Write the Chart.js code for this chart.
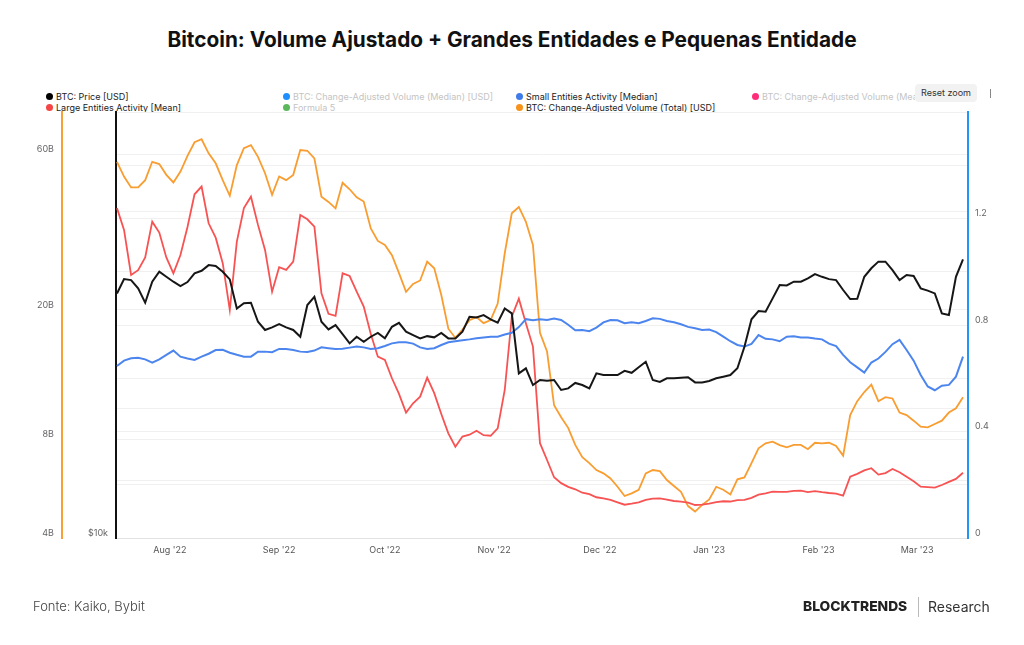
<!DOCTYPE html>
<html>
<head>
<meta charset="utf-8">
<script src="https://cdn.jsdelivr.net/npm/chart.js@4.4.0/dist/chart.umd.min.js"></script>
<style>
  html, body { margin: 0; padding: 0; background: #fff; }
  body { width: 1024px; height: 645px; position: relative; overflow: hidden; font-family: Inter, "Noto Sans", sans-serif; }
  #c { position: absolute; left: 0; top: 0; }
  .title { position: absolute; top: 27px; left: 0; width: 1024px; text-align: center; font-size: 20.8px; font-weight: 700; color: #111; }
  .legend { position: absolute; left: 0; top: 90px; width: 915px; height: 26px; overflow: hidden; font-size: 9px; }
  .item { position: absolute; white-space: nowrap; display: flex; align-items: center; height: 11px; }
  .dot { width: 7px; height: 7px; border-radius: 50%; margin-right: 3px; }
  .reset { position: absolute; left: 915px; top: 84px; width: 62px; height: 18px; line-height: 18px; background: #f2f2f2; border-radius: 4px; font-size: 9px; color: #333; text-align: center; }
  .pipe { position: absolute; left: 990px; top: 89px; width: 1px; height: 9px; background: #888; }
  .source { position: absolute; left: 33px; top: 598px; font-size: 13px; font-weight: 300; color: #444; }
  .brand { position: absolute; left: 803px; top: 598px; font-size: 13.8px; font-weight: 800; color: #222; }
  .sep { position: absolute; left: 918px; top: 597px; width: 1px; height: 20px; background: #bbb; }
  .research { position: absolute; left: 928px; top: 598px; font-size: 14px; font-weight: 400; color: #333; }
</style>
</head>
<body>
<div class="title">Bitcoin: Volume Ajustado + Grandes Entidades e Pequenas Entidade</div>
<div class="legend" id="legend"></div>
<div class="reset">Reset zoom</div>
<div class="pipe"></div>
<canvas id="c" width="1024" height="645"></canvas>
<div class="source">Fonte: Kaiko, Bybit</div>
<div class="brand">BLOCKTRENDS</div>
<div class="sep"></div>
<div class="research">Research</div>
<script>
// daily series sampled every 2 days, from 17 Jul 2022 to 14 Mar 2023
const START = Date.UTC(2022, 6, 17);
const DAY = 86400000;
const dates = [];
for (let t = START; t <= Date.UTC(2023, 2, 14); t += 2 * DAY) dates.push(new Date(t).toISOString().slice(0, 10));

// BTC: Price [USD]
const price = [
  22920, 24060, 23980, 23320, 22210, 23850, 24670, 24250, 23850, 23500,
  23820, 24540, 24750, 25230, 25150, 24670, 24040, 21780, 22170, 22210,
  20820, 20250, 20430, 20650, 20430, 20250, 19790, 22040, 22660, 20820,
  20290, 20590, 19970, 19350, 19790, 19460, 19790, 20050, 19680, 20470,
  20750, 20130, 19900, 19680, 19830, 19750, 20050, 19680, 19680, 20130,
  21170, 21130, 21300, 20990, 20750, 21780, 21420, 17480, 17780, 16800,
  17090, 17040, 17090, 16520, 16610, 16920, 16800, 16610, 17480, 17380,
  17380, 17380, 17630, 17510, 17840, 18180, 17090, 16980, 17190, 17190,
  17220, 17250, 16950, 16950, 17030, 17190, 17280, 17380, 17780, 19130,
  21000, 21590, 21540, 22540, 23580, 23550, 23850, 23850, 24120, 24480,
  24250, 24060, 23980, 23190, 22490, 22510, 24250, 24960, 25530, 25530,
  24810, 23980, 24400, 24320, 23320, 23140, 22920, 21420, 21300, 24250,
  25730
];

// BTC: Change-Adjusted Volume (Total) [USD], billions
const volumeTotal = [
  56.8, 51.2, 47.4, 47.4, 49.9, 56.8, 55.9, 51.8, 49.1, 53.0,
  59.2, 65.2, 66.6, 60.3, 56.2, 49.9, 44.7, 55.5, 62.5, 63.9,
  58.8, 52.4, 45.0, 51.2, 49.9, 51.8, 61.7, 61.4, 58.2, 44.4,
  42.8, 40.9, 49.0, 46.8, 44.2, 42.9, 35.5, 32.5, 31.6, 29.4,
  25.9, 22.7, 24.0, 24.6, 28.1, 26.8, 22.2, 17.5, 16.4, 17.4,
  18.6, 19.0, 18.2, 18.6, 20.9, 29.8, 39.5, 41.3, 37.2, 31.6,
  17.0, 14.9, 10.2, 9.38, 8.70, 7.71, 7.07, 6.78, 6.46, 6.31,
  6.09, 5.74, 5.38, 5.48, 5.62, 6.31, 6.46, 6.41, 6.02, 5.77,
  5.54, 5.01, 4.82, 5.05, 5.25, 5.74, 5.62, 5.44, 6.05, 6.13,
  6.78, 7.53, 7.80, 7.89, 7.70, 7.58, 7.71, 7.71, 7.48, 7.83,
  7.80, 7.83, 7.66, 7.15, 9.52, 10.5, 11.2, 11.8, 10.5, 10.8,
  10.7, 9.69, 9.52, 9.15, 8.77, 8.73, 8.94, 9.15, 9.69, 9.99,
  10.8
];

// Small Entities Activity [Median]
const smallEntities = [
  0.646, 0.666, 0.675, 0.677, 0.671, 0.659, 0.671, 0.688, 0.704, 0.681,
  0.674, 0.669, 0.681, 0.692, 0.706, 0.707, 0.696, 0.688, 0.681, 0.681,
  0.700, 0.700, 0.698, 0.710, 0.710, 0.706, 0.700, 0.699, 0.704, 0.716,
  0.713, 0.710, 0.711, 0.715, 0.719, 0.716, 0.710, 0.713, 0.721, 0.731,
  0.735, 0.735, 0.730, 0.716, 0.710, 0.713, 0.725, 0.735, 0.739, 0.743,
  0.746, 0.750, 0.753, 0.756, 0.756, 0.764, 0.771, 0.792, 0.822, 0.818,
  0.822, 0.819, 0.824, 0.819, 0.801, 0.780, 0.781, 0.777, 0.790, 0.810,
  0.819, 0.818, 0.807, 0.810, 0.807, 0.815, 0.825, 0.823, 0.815, 0.810,
  0.803, 0.793, 0.788, 0.781, 0.783, 0.773, 0.756, 0.739, 0.725, 0.719,
  0.729, 0.762, 0.748, 0.746, 0.739, 0.756, 0.758, 0.753, 0.753, 0.749,
  0.746, 0.730, 0.721, 0.688, 0.660, 0.641, 0.621, 0.659, 0.674, 0.699,
  0.728, 0.744, 0.706, 0.666, 0.612, 0.569, 0.555, 0.572, 0.575, 0.606,
  0.681
];

// Large Entities Activity [Mean]
const largeEntities = [
  1.239, 1.157, 0.988, 1.006, 1.054, 1.188, 1.147, 1.054, 0.994, 1.063,
  1.168, 1.291, 1.320, 1.182, 1.128, 1.032, 0.857, 1.113, 1.239, 1.282,
  1.176, 1.082, 0.925, 1.017, 1.007, 1.038, 1.213, 1.197, 1.169, 0.919,
  0.842, 0.834, 0.994, 0.984, 0.925, 0.869, 0.766, 0.681, 0.669, 0.600,
  0.541, 0.471, 0.506, 0.531, 0.602, 0.544, 0.466, 0.393, 0.343, 0.381,
  0.388, 0.403, 0.386, 0.384, 0.412, 0.556, 0.831, 0.899, 0.807, 0.719,
  0.356, 0.293, 0.228, 0.206, 0.192, 0.183, 0.170, 0.165, 0.153, 0.149,
  0.143, 0.134, 0.125, 0.129, 0.134, 0.143, 0.148, 0.149, 0.144, 0.139,
  0.137, 0.133, 0.124, 0.125, 0.129, 0.135, 0.138, 0.137, 0.142, 0.143,
  0.151, 0.163, 0.168, 0.174, 0.173, 0.173, 0.177, 0.178, 0.172, 0.176,
  0.172, 0.169, 0.167, 0.159, 0.230, 0.241, 0.254, 0.262, 0.238, 0.244,
  0.259, 0.247, 0.230, 0.213, 0.193, 0.191, 0.189, 0.199, 0.211, 0.222,
  0.245
];

const monthTicks = ['2022-08-01', '2022-09-01', '2022-10-01', '2022-11-01', '2022-12-01', '2023-01-01', '2023-02-01', '2023-03-01'];
const monthLabels = ["Aug '22", "Sep '22", "Oct '22", "Nov '22", "Dec '22", "Jan '23", "Feb '23", "Mar '23"];
const volumeTicks = [4, 6, 8, 10, 20, 40, 60];
const volumeLabels = { 4: '4B', 8: '8B', 20: '20B', 60: '60B' };
const activityTicks = [0, 0.2, 0.4, 0.6, 0.8, 1.0, 1.2, 1.4, 1.6];
const activityLabels = { '0': '0', '0.4': '0.4', '0.8': '0.8', '1.2': '1.2' };

const legendItems = [
  { label: 'BTC: Price [USD]', color: '#000000', on: true },
  { label: 'BTC: Change-Adjusted Volume (Median) [USD]', color: '#1e8fff', on: false },
  { label: 'Small Entities Activity [Median]', color: '#3f7be9', on: true },
  { label: 'BTC: Change-Adjusted Volume (Mean) [USD]', color: '#ff2d78', on: false },
  { label: 'Large Entities Activity [Mean]', color: '#f54545', on: true },
  { label: 'Formula 5', color: '#5cb85c', on: false },
  { label: 'BTC: Change-Adjusted Volume (Total) [USD]', color: '#f7931a', on: true }
];
const legendSlots = [[46, 0], [283, 0], [516, 0], [752, 0], [46, 1], [283, 1], [516, 1]];

const legend = document.getElementById('legend');
legendItems.forEach((it, i) => {
  const el = document.createElement('div');
  el.className = 'item';
  el.style.left = legendSlots[i][0] + 'px';
  el.style.top = (1 + legendSlots[i][1] * 11) + 'px';
  el.style.color = it.on ? '#222' : '#c4c4c4';
  el.innerHTML = '<span class="dot" style="background:' + it.color + '"></span>' + it.label;
  legend.appendChild(el);
});

const dayOf = s => (Date.parse(s + 'T00:00:00Z') - START) / DAY;
const pts = arr => dates.map((d, i) => ({ x: dayOf(d), y: arr[i] }));

Chart.defaults.font.family = 'Inter, "Noto Sans", sans-serif';
Chart.defaults.font.size = 9;

const line = (label, data, color, axis, w) => ({
  label, data: pts(data), yAxisID: axis,
  borderColor: color, backgroundColor: color, borderWidth: w,
  pointRadius: 0, tension: 0, fill: false
});

new Chart(document.getElementById('c').getContext('2d'), {
  type: 'line',
  data: {
    datasets: [
      line('BTC: Price [USD]', price, '#161616', 'yPrice', 2),
      line('Small Entities Activity [Median]', smallEntities, '#4c85ee', 'yAct', 2),
      line('Large Entities Activity [Mean]', largeEntities, '#f85353', 'yAct', 1.8),
      line('BTC: Change-Adjusted Volume (Total) [USD]', volumeTotal, '#f99d31', 'yVol', 1.8)
    ]
  },
  options: {
    responsive: false,
    animation: false,
    devicePixelRatio: 1,
    layout: { padding: { top: 112, left: 0, right: 0, bottom: 0 } },
    plugins: { legend: { display: false }, tooltip: { enabled: false } },
    scales: {
      x: {
        type: 'linear', min: -0.28, max: 241.42, bounds: 'data',
        afterBuildTicks: s => { s.ticks = monthTicks.map(m => ({ value: dayOf(m) })); },
        ticks: { callback: (v, i) => monthLabels[i], color: '#555', padding: 7, maxRotation: 0, autoSkip: false },
        grid: { display: false, drawTicks: false },
        border: { color: '#e2e2e2', width: 1 },
        afterFit: s => { s.height = 107; }
      },
      yVol: {
        type: 'logarithmic', position: 'left', weight: 10, min: 4, max: 80.7, bounds: 'data',
        afterBuildTicks: s => { s.ticks = volumeTicks.map(v => ({ value: v })); },
        ticks: { callback: v => volumeLabels[v] || '', color: '#666', padding: 8, labelOffset: -5, autoSkip: false },
        grid: { drawTicks: false, lineWidth: 1, color: c => c.tick && c.tick.value === 4 ? 'rgba(0,0,0,0)' : '#f0f0f0' },
        border: { color: '#f7a035', width: 2 },
        afterFit: s => { s.width = 62; }
      },
      yPrice: {
        type: 'logarithmic', position: 'left', weight: 0, min: 10000, max: 42410, bounds: 'data',
        afterBuildTicks: s => { s.ticks = [{ value: 10000 }]; },
        ticks: { callback: () => '$10k', color: '#666', padding: 8, labelOffset: -5 },
        grid: { display: false, drawTicks: false },
        border: { color: '#111', width: 2 },
        afterFit: s => { s.width = 54; }
      },
      yAct: {
        type: 'linear', position: 'right', min: 0, max: 1.6, bounds: 'data',
        afterBuildTicks: s => { s.ticks = activityTicks.map(v => ({ value: v })); },
        ticks: { callback: v => activityLabels[String(Math.round(v * 10) / 10)] || '', color: '#666', padding: 7, labelOffset: -5, autoSkip: false },
        grid: { drawTicks: false, lineWidth: 1, color: c => c.tick && c.tick.value === 0 ? 'rgba(0,0,0,0)' : '#f0f0f0' },
        border: { color: '#2196f3', width: 2 },
        afterFit: s => { s.width = 56; }
      }
    }
  }
});
</script>
</body>
</html>
